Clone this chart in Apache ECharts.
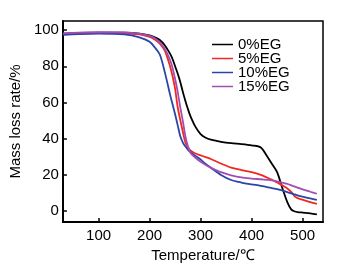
<!DOCTYPE html>
<html><head><meta charset="utf-8">
<script src="https://cdn.jsdelivr.net/npm/echarts@6/dist/echarts.min.js"></script>
<style>html,body{margin:0;padding:0;background:#fff}#c{width:352px;height:268px}</style>
</head><body><div id="c"></div>
<script>
const seriesNames = ['0%EG', '5%EG', '10%EG', '15%EG'];
const temps = [30, 60, 100, 150, 180, 200, 210, 220, 230, 240, 245, 250, 255, 260, 265, 270, 275, 280, 290, 300, 310, 320, 340, 360, 380, 400, 418, 430, 440, 450, 460, 470, 478, 485, 490, 500, 515, 528];
const eg0 = [98.0, 98.4, 98.6, 98.5, 98.0, 97.0, 96.0, 94.5, 91.5, 87.0, 84.0, 80.0, 76.0, 71.5, 66.0, 61.0, 56.5, 52.5, 46.5, 42.5, 40.5, 39.5, 38.3, 37.5, 37.0, 36.3, 35.2, 30.5, 26.0, 21.5, 13.0, 5.0, 0.8, -0.2, -0.5, -0.8, -1.2, -1.8];
const eg5 = [97.6, 98.1, 98.3, 98.2, 97.6, 96.2, 94.8, 92.5, 88.5, 80.0, 74.5, 67.5, 57.5, 50.5, 44.0, 38.0, 35.3, 33.5, 31.8, 30.8, 29.8, 28.8, 26.3, 24.0, 22.7, 21.5, 20.0, 18.6, 17.3, 15.8, 14.3, 12.5, 10.5, 8.0, 7.2, 6.3, 5.0, 4.0];
const eg10 = [97.3, 97.8, 98.0, 97.6, 96.0, 93.5, 90.5, 86.5, 76.5, 64.5, 59.0, 53.5, 47.5, 41.5, 38.0, 35.8, 34.0, 32.6, 30.5, 28.5, 26.0, 24.0, 20.0, 17.2, 15.8, 14.8, 14.0, 13.3, 12.7, 12.2, 11.5, 10.5, 9.8, 9.2, 8.7, 8.0, 7.0, 6.2];
const eg15 = [98.2, 98.6, 98.8, 98.7, 98.0, 96.8, 95.5, 93.2, 89.5, 83.5, 79.0, 73.0, 66.0, 57.5, 50.0, 41.5, 36.0, 32.3, 29.5, 27.3, 25.5, 24.0, 21.5, 19.8, 18.6, 18.0, 17.6, 17.3, 17.0, 16.5, 15.8, 15.0, 14.2, 13.5, 13.0, 12.0, 10.7, 9.6];
const xTicks = [100, 200, 300, 400, 500];
const yTicks = [0, 20, 40, 60, 80, 100];
const colors = ['#000000', '#f0281e', '#2a45a8', '#a24db4'];

const allValues = [eg0, eg5, eg10, eg15];
const font = 'Liberation Sans, Arial, sans-serif';
const chart = echarts.init(document.getElementById('c'));
chart.setOption({
  animation: false,
  backgroundColor: '#fff',
  grid: { left: 53, right: 29, top: 21, bottom: 41, show: true, borderColor: '#000', borderWidth: 1.5, backgroundColor: 'transparent' },
  legend: {
    orient: 'vertical', left: 207, top: 32, itemWidth: 21, itemHeight: 1.5, itemGap: -1,
    icon: 'rect',
    textStyle: { fontFamily: font, fontSize: 15, color: '#000' },
    data: seriesNames
  },
  xAxis: {
    type: 'value', min: 30, max: 540,
    name: 'Temperature/℃', nameLocation: 'middle', nameGap: 26,
    nameTextStyle: { fontFamily: font, fontSize: 15, color: '#000', padding: [0, 0, 0, 20] },
    axisLine: { show: true, onZero: false, lineStyle: { color: '#000', width: 2 } },
    axisTick: { show: true, inside: true, length: 4, customValues: xTicks, lineStyle: { color: '#000', width: 1.5 } },
    axisLabel: { customValues: xTicks, fontFamily: font, fontSize: 15, color: '#000', margin: 6 },
    splitLine: { show: false }
  },
  yAxis: {
    type: 'value', min: -6, max: 105,
    name: 'Mass loss rate/%', nameLocation: 'middle', nameGap: 27,
    nameTextStyle: { fontFamily: font, fontSize: 15, color: '#000' },
    axisLine: { show: true, onZero: false, lineStyle: { color: '#000', width: 2 } },
    axisTick: { show: true, inside: true, length: 4, customValues: yTicks, lineStyle: { color: '#000', width: 1.5 } },
    axisLabel: { customValues: yTicks, fontFamily: font, fontSize: 15, color: '#000', margin: 4 },
    splitLine: { show: false }
  },
  series: seriesNames.map((n, i) => ({
    name: n, type: 'line', smooth: 0.3, symbol: 'none',
    lineStyle: { color: colors[i], width: 1.8 },
    itemStyle: { color: colors[i] },
    data: temps.map((t, j) => [t, allValues[i][j]])
  }))
});
</script></body></html>
